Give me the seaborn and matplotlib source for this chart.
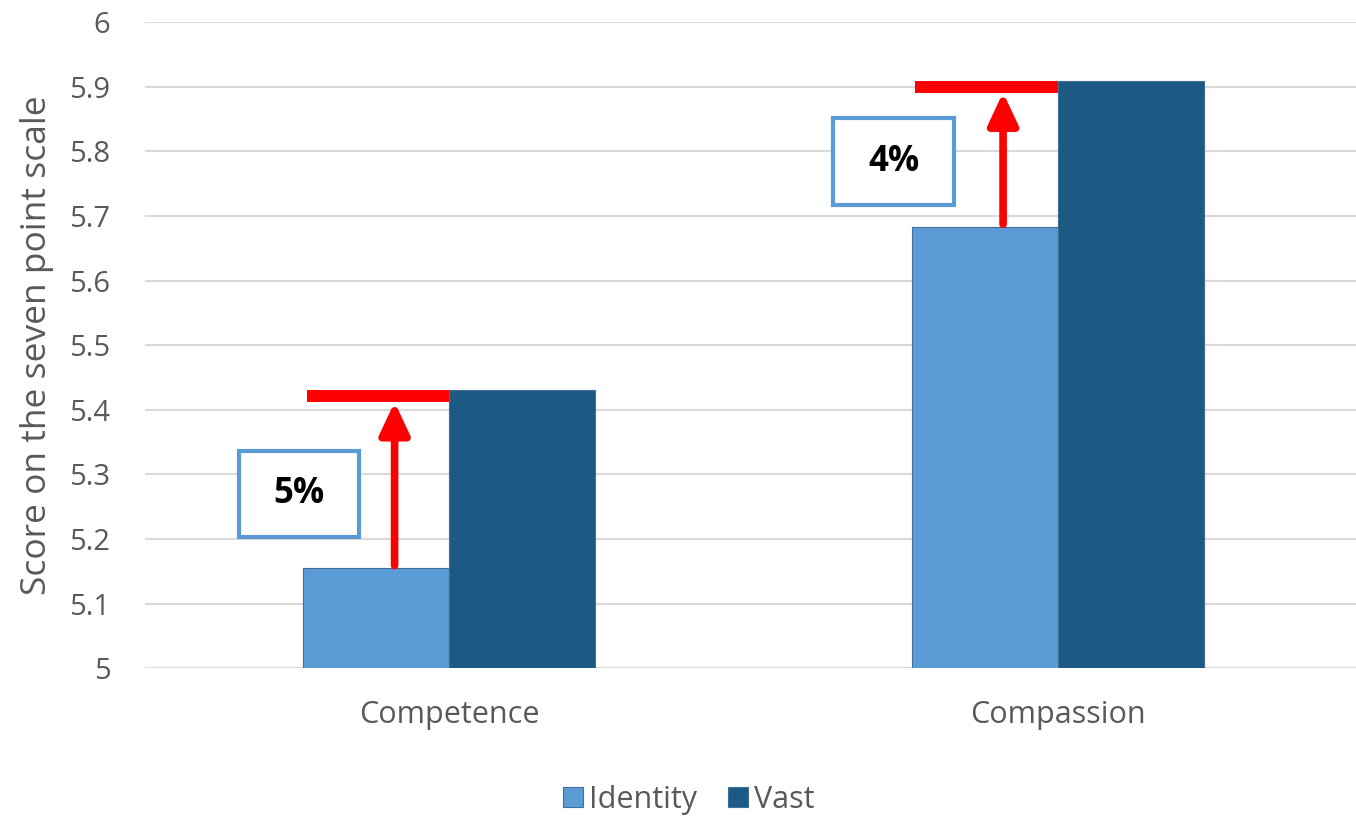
import matplotlib
matplotlib.use("Agg")
import matplotlib.pyplot as plt
import seaborn as sns
import pandas as pd
from matplotlib.patches import Rectangle

categories = ["Competence", "Compassion"]
groups = ["Identity", "Vast"]
identity_scores = [5.155, 5.683]
vast_scores = [5.43, 5.909]
y_ticks = [5, 5.1, 5.2, 5.3, 5.4, 5.5, 5.6, 5.7, 5.8, 5.9, 6]
y_tick_labels = ["5", "5.1", "5.2", "5.3", "5.4", "5.5", "5.6", "5.7", "5.8", "5.9", "6"]

sns.set_theme(style="white")
plt.rcParams["font.family"] = ["Open Sans", "DejaVu Sans"]

df = pd.DataFrame({
    "category": categories * 2,
    "group": [groups[0]] * 2 + [groups[1]] * 2,
    "score": identity_scores + vast_scores,
})

palette = {"Identity": "#5B9BD5", "Vast": "#1C5A84"}
text_gray = "#595959"

fig = plt.figure(figsize=(13.56, 8.16), dpi=100)
ax = fig.add_axes([0.107, 0.181, 0.893, 0.792])

sns.barplot(data=df, x="category", y="score", hue="group", order=categories,
            hue_order=groups, palette=palette, width=0.48, saturation=1,
            ax=ax, legend=False, zorder=3)
for bar in ax.patches:
    bar.set_edgecolor("#3E6E99")
    bar.set_linewidth(0.8)

ax.set_ylim(5, 6)
ax.set_xlim(-0.5, 1.49)
ax.set_yticks(y_ticks)
ax.set_yticklabels(y_tick_labels)
ax.yaxis.grid(True, color="#d9d9d9", linewidth=1.5, zorder=0)
ax.set_axisbelow(True)
for s in ax.spines.values():
    s.set_visible(False)
ax.tick_params(axis="y", length=0, pad=25, labelsize=21, labelcolor=text_gray)
ax.tick_params(axis="x", length=0, pad=23, labelsize=22, labelcolor=text_gray)
ax.set_xlabel("")
ax.set_ylabel("Score on the seven point scale", fontsize=25.5, color=text_gray, labelpad=11)

# Uplift markers: cap line at the Vast score, arrow rising from the Identity bar
box_centers = [(-0.247, 5.27), (-0.27, 5.784)]
for i, (lo, hi) in enumerate(zip(identity_scores, vast_scores)):
    ax.plot([i - 0.234, i], [hi - 0.009, hi - 0.009], color="#FF0000",
            linewidth=8.6, solid_capstyle="butt", zorder=4)
    ax.annotate("", xy=(i - 0.09, hi - 0.018), xytext=(i - 0.09, lo + 0.004),
                arrowprops=dict(arrowstyle="-|>,head_length=1.6,head_width=0.75",
                                color="#FF0000", lw=5.5, shrinkA=0, shrinkB=0),
                zorder=4)
    pct = round((hi / lo - 1) * 100)
    cx, cy = box_centers[i]
    ax.add_patch(Rectangle((i + cx - 0.099, cy - 0.067), 0.198, 0.134,
                           facecolor="white", edgecolor="#5B9BD5",
                           linewidth=3, zorder=5))
    ax.text(i + cx, cy, f"{pct}%", ha="center", va="center", fontsize=25,
            fontweight="bold", color="black", zorder=6)

handles = [Rectangle((0, 0), 1, 1, facecolor=palette[g], edgecolor="#3E6E99", linewidth=0.8)
           for g in groups]
fig.legend(handles, groups, loc="center", bbox_to_anchor=(0.508, 0.02), ncol=2,
           frameon=False, fontsize=22, labelcolor=text_gray, handlelength=0.65,
           handleheight=0.65, handletextpad=0.2, columnspacing=1.0)

fig.savefig("out.png", dpi=100)
